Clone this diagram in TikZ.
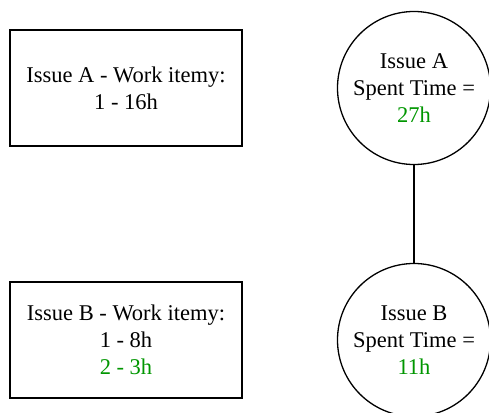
\documentclass[tikz,border=0pt]{standalone}
\usepackage{fontspec}
\setmainfont{Liberation Serif}
\definecolor{spentgreen}{RGB}{0,150,0}
\begin{document}
\begin{tikzpicture}[
      x=1pt, y=-1pt,
      every node/.style={align=center, font=\fontsize{22.5}{27}\selectfont},
      itembox/.style={draw, line width=1.3pt, minimum width=232pt, minimum height=116pt},
      spent/.style={draw, circle, line width=1.3pt, minimum size=153pt, inner sep=0pt},
      link/.style={line width=1.3pt}
    ]
      \useasboundingbox (0,0) rectangle (489,412);

      % Work item boxes on the left
      \node[itembox] (itemsA) at (126,88) {Issue A - Work itemy:\\1 - 16h};
      \node[itembox] (itemsB) at (126,340) {Issue B - Work itemy:\\1 - 8h\\\textcolor{spentgreen}{2 - 3h}};

      % Spent time circles on the right
      \node[spent] (spentA) at (414,88) {Issue A\\Spent Time =\\\textcolor{spentgreen}{27h}};
      \node[spent] (spentB) at (414,340) {Issue B\\Spent Time =\\\textcolor{spentgreen}{11h}};

      % Link
      \draw[link] (spentA) -- (spentB);
    \end{tikzpicture}
\end{document}
